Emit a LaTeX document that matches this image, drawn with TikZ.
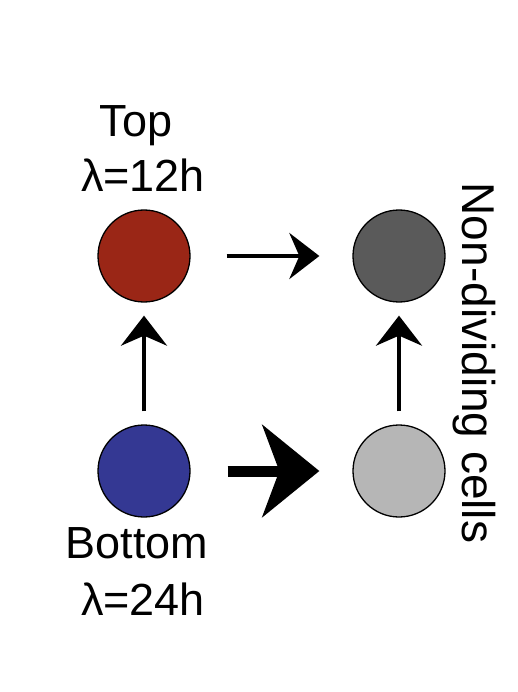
\documentclass[tikz,border=0pt]{standalone}
\usepackage{fontspec}
\setmainfont{Liberation Sans}
\usetikzlibrary{arrows.meta}
\definecolor{topred}{RGB}{154,38,22}
\definecolor{botblue}{RGB}{52,56,147}
\definecolor{darkg}{RGB}{90,90,90}
\definecolor{lightg}{RGB}{182,182,182}
\tikzset{
  cell/.style={circle,draw=black,line width=1.3pt,minimum size=92pt,inner sep=0pt},
  lab/.style={font=\fontsize{45}{50}\selectfont,inner sep=0pt,anchor=base},
  thinarrow/.style={line width=4pt,-{Stealth[length=30pt,width=46pt,inset=10pt]}},
  bigarrow/.style={line width=11pt,-{Stealth[length=57pt,width=92pt,inset=17pt]}}
}
\begin{document}
\begin{tikzpicture}[x=1pt,y=-1pt]
\useasboundingbox (0,0) rectangle (518,692);
\node[cell,fill=topred] (top) at (144,256) {};
\node[cell,fill=botblue] (bot) at (144,471) {};
\node[cell,fill=darkg] (nd1) at (399,256) {};
\node[cell,fill=lightg] (nd2) at (399,471) {};
\draw[thinarrow,shorten <=13pt,shorten >=13pt] (bot) -- (top);
\draw[thinarrow,shorten <=13pt,shorten >=13pt] (nd2) -- (nd1);
\draw[thinarrow,shorten <=36pt,shorten >=33pt] (top) -- (nd1);
\draw[bigarrow,shorten <=37pt,shorten >=33pt] (bot) -- (nd2);
\node[lab] (t1) at (136,137) {Top};
\node[lab] (t2) at (143,192) {λ=12h};
\node[lab] (b1) at (137,558) {Bottom};
\node[lab] (b2) at (143,615) {λ=24h};
\node[lab,rotate=-90,font=\fontsize{46}{50}\selectfont] (nd) at (462,363) {Non-dividing cells};
\end{tikzpicture}
\end{document}
